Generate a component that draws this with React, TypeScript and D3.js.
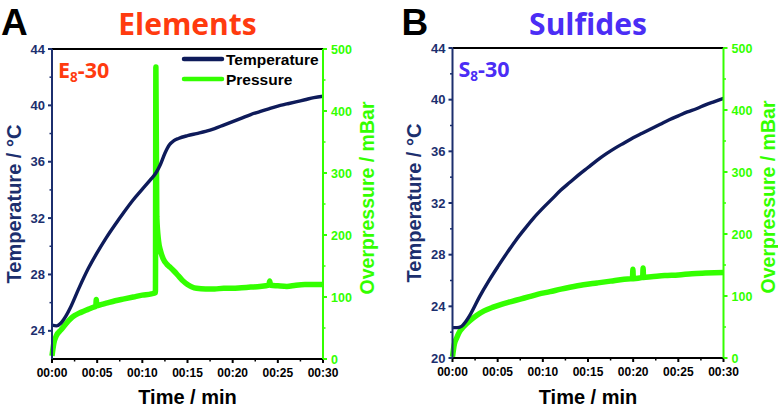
import React from "react";
import * as d3 from "d3";

// ---------- data ----------
const xTickValues = [0, 5, 10, 15, 20, 25, 30];
const xTickLabels = ["00:00", "00:05", "00:10", "00:15", "00:20", "00:25", "00:30"];
const xMinorTicks = [2.5, 7.5, 12.5, 17.5, 22.5, 27.5];
const pTicks = [0, 100, 200, 300, 400, 500];
const pMinor = [50, 150, 250, 350, 450];
const tempTicksA = [24, 28, 32, 36, 40, 44];
const tempMinorA = [26, 30, 34, 38, 42];
const tempTicksB = [20, 24, 28, 32, 36, 40, 44];
const tempMinorB = [22, 26, 30, 34, 38, 42];

// Elements (A)
const elemTempTime = [0, 0.5, 1, 1.5, 2, 3, 4, 5, 6, 7, 8, 9, 10, 11, 11.5, 12, 12.5, 13, 13.5, 14, 15, 16, 17, 18, 19, 20, 21, 22, 23, 24, 25, 26, 27, 28, 29, 30];
const elemTemp = [24.4, 24.35, 24.55, 25.0, 25.6, 27.05, 28.4, 29.55, 30.6, 31.55, 32.45, 33.3, 34.05, 34.8, 35.2, 35.8, 36.6, 37.2, 37.5, 37.65, 37.85, 38.0, 38.15, 38.35, 38.6, 38.85, 39.1, 39.35, 39.55, 39.75, 39.95, 40.1, 40.25, 40.4, 40.55, 40.65];
const elemPresTime = [0, 0.2, 0.5, 1, 1.5, 2, 2.5, 3, 3.5, 4, 4.5, 4.85, 4.9, 4.95, 5.5, 6, 7, 8, 9, 10, 11, 11.45, 11.5, 11.6, 11.8, 12, 12.3, 12.7, 13, 13.5, 14, 14.5, 15, 15.5, 16, 17, 18, 19, 20, 21, 22, 23, 24, 24.1, 24.2, 25, 26, 27, 28, 29, 30];
const elemPres = [5, 25, 38, 47, 56, 64, 70, 74, 77, 80, 83, 85, 96, 86, 88, 90, 94, 97, 100, 103, 105, 107, 471, 230, 190, 175, 162, 153, 149, 142, 134, 126, 120, 116, 114, 113, 113, 114, 114, 115, 116, 117, 119, 126, 119, 118, 117, 119, 120, 120, 120];

// Sulfides (B)
const sulfTempTime = [0, 0.5, 1, 1.5, 2, 3, 4, 5, 6, 7, 8, 9, 10, 11, 12, 13, 14, 15, 16, 17, 18, 19, 20, 21, 22, 23, 24, 25, 26, 27, 28, 29, 30];
const sulfTemp = [22.35, 22.35, 22.45, 22.85, 23.4, 24.75, 25.95, 27.05, 28.1, 29.1, 30.0, 30.85, 31.6, 32.3, 33.0, 33.6, 34.2, 34.75, 35.3, 35.8, 36.25, 36.65, 37.05, 37.4, 37.75, 38.1, 38.45, 38.75, 39.05, 39.3, 39.6, 39.85, 40.1];
const sulfPresTime = [0, 0.2, 0.45, 0.8, 1.2, 2, 2.7, 3.5, 4.5, 5.5, 6.5, 7.5, 8.5, 9.5, 10.8, 12, 13, 14.5, 16, 17.5, 19, 19.92, 19.97, 20.02, 21.05, 21.1, 21.15, 22, 23.5, 25, 26.5, 28, 30];
const sulfPres = [2, 22, 32, 43, 50, 61, 69, 76, 82, 87, 91, 95, 99, 103, 107, 111, 114, 118, 121, 124, 127, 128, 143, 128, 130, 145, 130, 131, 133, 134, 136, 137, 138];

// ---------- styles ----------
const NAVY = "#1c2f6e";
const NAVY_LINE = "#0e1b5a";
const GREEN = "#33ff00";
const ORANGE = "#ff3b0f";
const VIOLET = "#4b2df5";
const ARIAL = "'Liberation Sans', Arial, sans-serif";
const OPEN = "'Open Sans', 'Noto Sans', sans-serif";

type PanelProps = {
  x0: number; x1: number; y0: number; y1: number;
  tDomain: [number, number];
  tTicks: number[]; tMinor: number[];
  tempT: number[]; temp: number[];
  presT: number[]; pres: number[];
  letter: string; title: string; titleColor: string;
  tag: string; legend: boolean;
};

function Panel(p: PanelProps) {
  const xs = d3.scaleLinear().domain([0, 30]).range([p.x0, p.x1]);
  const ys = d3.scaleLinear().domain(p.tDomain).range([p.y1, p.y0]);
  const yp = d3.scaleLinear().domain([0, 500]).range([p.y1, p.y0]);
  const tempLine = d3.line<number>().x((_, i) => xs(p.tempT[i])).y((d) => ys(d)).curve(d3.curveMonotoneX);
  const presLine = d3.line<number>().x((_, i) => xs(p.presT[i])).y((d) => yp(d)).curve(d3.curveMonotoneX);
  const cx = (p.x0 + p.x1) / 2;
  const cy = (p.y0 + p.y1) / 2;
  return (
    <g>
      {/* title */}
      <text x={p.x0 - 51} y={35} fontFamily={ARIAL} fontWeight="bold" fontSize={37} fill="#000">{p.letter}</text>
      <text x={cx} y={35} textAnchor="middle" fontFamily={OPEN} fontWeight="bold" fontSize={30} fill={p.titleColor}>{p.title}</text>

      {/* data */}
      <path d={presLine(p.pres) || ""} fill="none" stroke={GREEN} strokeWidth={5.5} strokeLinejoin="round" />
      <path d={tempLine(p.temp) || ""} fill="none" stroke={NAVY_LINE} strokeWidth={3.4} />

      {/* frame top */}
      <line x1={p.x0} x2={p.x1} y1={p.y0} y2={p.y0} stroke="#000" strokeWidth={2} />
      {/* bottom axis */}
      <line x1={p.x0} x2={p.x1} y1={p.y1} y2={p.y1} stroke="#000" strokeWidth={2} />
      {xTickValues.map((v, i) => (
        <g key={"xt" + v}>
          <line x1={xs(v)} x2={xs(v)} y1={p.y1} y2={p.y1 + 4} stroke="#000" strokeWidth={2} />
          <text x={xs(v)} y={p.y1 + 18} textAnchor="middle" fontFamily={ARIAL} fontWeight="bold" fontSize={12} fill="#000">{xTickLabels[i]}</text>
        </g>
      ))}
      {xMinorTicks.map((v) => (
        <line key={"xm" + v} x1={xs(v)} x2={xs(v)} y1={p.y1} y2={p.y1 + 2.5} stroke="#000" strokeWidth={1.5} />
      ))}
      <text x={cx} y={404} textAnchor="middle" fontFamily={ARIAL} fontWeight="bold" fontSize={20} fill="#000">Time / min</text>

      {/* left axis */}
      <line x1={p.x0} x2={p.x0} y1={p.y0} y2={p.y1} stroke={NAVY} strokeWidth={2} />
      {p.tTicks.map((v) => (
        <g key={"yt" + v}>
          <line x1={p.x0 - 4} x2={p.x0} y1={ys(v)} y2={ys(v)} stroke={NAVY} strokeWidth={2} />
          <text x={p.x0 - 7} y={ys(v)} dy="0.36em" textAnchor="end" fontFamily={ARIAL} fontWeight="bold" fontSize={13} fill={NAVY}>{v}</text>
        </g>
      ))}
      {p.tMinor.map((v) => (
        <line key={"ym" + v} x1={p.x0 - 2.5} x2={p.x0} y1={ys(v)} y2={ys(v)} stroke={NAVY} strokeWidth={1.5} />
      ))}
      <text transform={`translate(${p.x0 - 31.5},${cy}) rotate(-90)`} textAnchor="middle" fontFamily={ARIAL} fontWeight="bold" fontSize={20} fill={NAVY}>Temperature / °C</text>

      {/* right axis */}
      <line x1={p.x1} x2={p.x1} y1={p.y0} y2={p.y1} stroke={GREEN} strokeWidth={2} />
      {pTicks.map((v) => (
        <g key={"pt" + v}>
          <line x1={p.x1} x2={p.x1 + 4} y1={yp(v)} y2={yp(v)} stroke={GREEN} strokeWidth={2} />
          <text x={p.x1 + 8} y={yp(v)} dy="0.36em" textAnchor="start" fontFamily={ARIAL} fontWeight="bold" fontSize={12.5} fill={GREEN}>{v}</text>
        </g>
      ))}
      {pMinor.map((v) => (
        <line key={"pm" + v} x1={p.x1} x2={p.x1 + 2.5} y1={yp(v)} y2={yp(v)} stroke={GREEN} strokeWidth={1.5} />
      ))}
      <text transform={`translate(${p.x1 + 51},${cy - 6}) rotate(-90)`} textAnchor="middle" fontFamily={ARIAL} fontWeight="bold" fontSize={19.5} fill={GREEN}>Overpressure / mBar</text>

      {/* sample tag */}
      <text x={p.x0 + 6} y={p.y0 + 29} fontFamily={OPEN} fontWeight="bold" fontSize={21.5} fill={p.titleColor}>
        {p.tag}<tspan fontSize={13.5} dy={4}>8</tspan><tspan dy={-4}>-30</tspan>
      </text>

      {/* legend */}
      {p.legend && (
        <g>
          <line x1={p.x0 + 132} x2={p.x0 + 170} y1={p.y0 + 10} y2={p.y0 + 10} stroke={NAVY_LINE} strokeWidth={4.5} strokeLinecap="round" />
          <text x={p.x0 + 174} y={p.y0 + 16} fontFamily={ARIAL} fontWeight="bold" fontSize={15.5} fill="#000">Temperature</text>
          <line x1={p.x0 + 132} x2={p.x0 + 170} y1={p.y0 + 30} y2={p.y0 + 30} stroke={GREEN} strokeWidth={4.5} strokeLinecap="round" />
          <text x={p.x0 + 174} y={p.y0 + 36} fontFamily={ARIAL} fontWeight="bold" fontSize={15.5} fill="#000">Pressure</text>
        </g>
      )}
    </g>
  );
}

export default function App() {
  return (
    <svg width={778} height={408} style={{ position: "absolute", left: 0, top: 0, background: "#fff" }}>
      <rect x={0} y={0} width={778} height={408} fill="#fff" />
      <Panel x0={52} x1={323} y0={49} y1={359} tDomain={[22, 44]} tTicks={tempTicksA} tMinor={tempMinorA}
        tempT={elemTempTime} temp={elemTemp} presT={elemPresTime} pres={elemPres}
        letter="A" title="Elements" titleColor={ORANGE} tag="E" legend={true} />
      <Panel x0={452.5} x1={723.5} y0={48} y1={358} tDomain={[20, 44]} tTicks={tempTicksB} tMinor={tempMinorB}
        tempT={sulfTempTime} temp={sulfTemp} presT={sulfPresTime} pres={sulfPres}
        letter="B" title="Sulfides" titleColor={VIOLET} tag="S" legend={false} />
    </svg>
  );
}
